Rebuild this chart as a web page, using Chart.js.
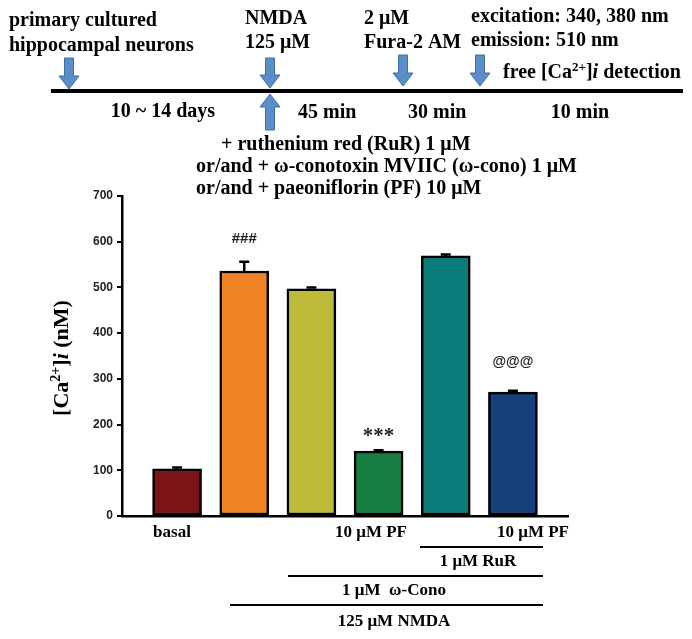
<!DOCTYPE html>
<html lang="en">
<head>
    <meta charset="UTF-8">
    <title>[Ca2+]i after NMDA</title>
    <script src="https://cdn.jsdelivr.net/npm/chart.js@4.4.1/dist/chart.umd.min.js"></script>
    <style>
        * { margin: 0; padding: 0; box-sizing: border-box; }
        body { background: #fff; }
        .chart-box { position: relative; width: 692px; height: 639px; }
    </style>
</head>
<body>
    <div class="chart-box"><canvas id="caChart"></canvas></div>
    <script>
        // bar data
        const categories = ['basal', 'NMDA', 'NMDA + ω-Cono', 'NMDA + ω-Cono + PF', 'NMDA + ω-Cono + RuR', 'NMDA + ω-Cono + RuR + PF'];
        const values = [103, 536, 497, 142, 569, 271];
        const errors = [3, 20, 3, 2, 3, 3];
        const marks = ['', '###', '', '***', '', '@@@'];
        const barColors = ['#7C1518', '#F08425', '#BDBB37', '#177E42', '#0A7C79', '#173F79'];
        const yMin = 0, yMax = 700, yStep = 100;

        const SERIF = '"Liberation Serif", "Times New Roman", serif';
        const SANS = '"Liberation Sans", Arial, sans-serif';
        const arrowFill = '#5B8DC9';
        const arrowStroke = '#3F6FA5';

        // draw text made of runs (for superscripts / italics)
        function drawRuns(ctx, runs, x, y, align) {
            let total = 0;
            runs.forEach(r => { ctx.font = r.font; r.w = ctx.measureText(r.t).width; total += r.w; });
            let cx = align === 'center' ? x - total / 2 : x;
            ctx.textAlign = 'left';
            ctx.textBaseline = 'middle';
            runs.forEach(r => {
                ctx.font = r.font;
                ctx.fillText(r.t, cx, y + (r.dy || 0));
                cx += r.w;
            });
        }

        function arrow(ctx, x, yTail, yTip) {
            const dir = yTip > yTail ? 1 : -1;
            const headLen = 13, shaft = 4.5, head = 10;
            const yBase = yTip - dir * headLen;
            ctx.save();
            ctx.beginPath();
            ctx.moveTo(x - shaft, yTail);
            ctx.lineTo(x + shaft, yTail);
            ctx.lineTo(x + shaft, yBase);
            ctx.lineTo(x + head, yBase);
            ctx.lineTo(x, yTip);
            ctx.lineTo(x - head, yBase);
            ctx.lineTo(x - shaft, yBase);
            ctx.closePath();
            ctx.fillStyle = arrowFill;
            ctx.fill();
            ctx.lineWidth = 1;
            ctx.strokeStyle = arrowStroke;
            ctx.stroke();
            ctx.restore();
        }

        function hline(ctx, x1, x2, y, w) {
            ctx.beginPath();
            ctx.moveTo(x1, y);
            ctx.lineTo(x2, y);
            ctx.lineWidth = w;
            ctx.strokeStyle = '#000';
            ctx.stroke();
        }

        const extras = {
            id: 'extras',
            afterDatasetsDraw(chart) {
                const ctx = chart.ctx;
                const xs = chart.scales.x, ys = chart.scales.y;
                ctx.save();
                ctx.fillStyle = '#000';

                // error bars (upper half only)
                values.forEach((v, i) => {
                    const x = xs.getPixelForValue(i);
                    const yTop = ys.getPixelForValue(v);
                    const yErr = ys.getPixelForValue(v + errors[i]);
                    ctx.beginPath();
                    ctx.moveTo(x, yTop);
                    ctx.lineTo(x, yErr);
                    ctx.moveTo(x - 5, yErr);
                    ctx.lineTo(x + 5, yErr);
                    ctx.lineWidth = 2.5;
                    ctx.strokeStyle = '#000';
                    ctx.stroke();
                });

                // significance marks
                const markOffset = [0, 23, 0, 17, 0, 29];
                const markFont = ['', 'bold 15px ' + SANS, '', 'bold 21px ' + SERIF, '', 'bold 14px ' + SANS];
                ctx.fillStyle = '#222';
                marks.forEach((m, i) => {
                    if (!m) return;
                    const x = xs.getPixelForValue(i);
                    const y = ys.getPixelForValue(values[i] + errors[i]) - markOffset[i];
                    ctx.font = markFont[i];
                    ctx.textAlign = 'center';
                    ctx.textBaseline = 'middle';
                    ctx.fillText(m, x, i === 3 ? y + 3 : y);
                });
                ctx.fillStyle = '#000';

                // y axis title
                ctx.save();
                ctx.translate(62, 358);
                ctx.rotate(-Math.PI / 2);
                drawRuns(ctx, [
                    { t: '[Ca', font: 'bold 22px ' + SERIF },
                    { t: '2+', font: 'bold 14px ' + SERIF, dy: -6 },
                    { t: ']', font: 'bold 22px ' + SERIF },
                    { t: 'i', font: 'bold italic 22px ' + SERIF },
                    { t: ' (nM)', font: 'bold 22px ' + SERIF }
                ], 0, 0, 'center');
                ctx.restore();

                // treatment labels under the bars
                const f17 = 'bold 17px ' + SERIF;
                ctx.textAlign = 'center';
                ctx.textBaseline = 'middle';
                ctx.font = f17;
                ctx.fillText('basal', 172, 533);
                ctx.fillText('10 μM PF', 371, 533);
                ctx.fillText('10 μM PF', 533, 533);
                hline(ctx, 420, 543, 547, 2);
                ctx.fillText('1 μM RuR', 478, 562);
                hline(ctx, 288, 543, 576, 2);
                ctx.fillText('1 μM  ω-Cono', 394, 591);
                hline(ctx, 230, 543, 605, 2);
                ctx.fillText('125 μM NMDA', 394, 622);

                // protocol timeline on top
                const f20 = 'bold 20px ' + SERIF;
                ctx.font = f20;
                ctx.textAlign = 'left';
                ctx.fillText('primary cultured', 9, 21);
                ctx.fillText('hippocampal neurons', 9, 46);
                ctx.fillText('NMDA', 245, 19);
                ctx.fillText('125 μM', 245, 43);
                ctx.fillText('2 μM', 364, 19);
                ctx.fillText('Fura-2 AM', 364, 43);
                ctx.fillText('excitation: 340, 380 nm', 471, 17);
                ctx.fillText('emission: 510 nm', 471, 41);
                drawRuns(ctx, [
                    { t: 'free [Ca', font: f20 },
                    { t: '2+', font: 'bold 13px ' + SERIF, dy: -5 },
                    { t: ']', font: f20 },
                    { t: 'i', font: 'bold italic 20px ' + SERIF },
                    { t: ' detection', font: f20 }
                ], 503, 73, 'left');

                hline(ctx, 51, 683, 91, 4);
                arrow(ctx, 69, 58, 89);
                arrow(ctx, 270, 58, 88);
                arrow(ctx, 403, 55, 86);
                arrow(ctx, 480, 55, 86);
                arrow(ctx, 270, 130, 94);

                ctx.fillStyle = '#000';
                ctx.font = f20;
                ctx.textAlign = 'center';
                ctx.fillText('10 ~ 14 days', 163, 112);
                ctx.textAlign = 'left';
                ctx.fillText('45 min', 298, 113);
                ctx.fillText('30 min', 408, 113);
                ctx.textAlign = 'center';
                ctx.fillText('10 min', 580, 113);
                ctx.textAlign = 'left';
                ctx.fillText('+ ruthenium red (RuR) 1 μM', 221, 145);
                ctx.fillText('or/and + ω-conotoxin MVIIC (ω-cono) 1 μM', 196, 167);
                ctx.fillText('or/and + paeoniflorin (PF) 10 μM', 196, 189);

                ctx.restore();
            }
        };

        const ctx = document.getElementById('caChart').getContext('2d');
        new Chart(ctx, {
            type: 'bar',
            data: {
                labels: categories,
                datasets: [{
                    label: '[Ca2+]i (nM)',
                    data: values.map((v, i) => ({ x: i, y: v })),
                    backgroundColor: barColors,
                    borderColor: '#000',
                    borderWidth: 2.5,
                    borderSkipped: false,
                    barThickness: 49
                }]
            },
            options: {
                responsive: true,
                maintainAspectRatio: false,
                animation: false,
                layout: { padding: { left: 0, top: 196, right: 124, bottom: 123 } },
                plugins: {
                    legend: { display: false },
                    tooltip: { enabled: false }
                },
                scales: {
                    x: {
                        type: 'linear',
                        offset: false,
                        min: -0.82,
                        max: 5.82,
                        grid: { display: false, offset: false },
                        ticks: { display: false },
                        border: { display: true, color: '#000', width: 2.5 },
                        afterFit: scale => { scale.height = 0; }
                    },
                    y: {
                        min: yMin,
                        max: yMax,
                        ticks: {
                            stepSize: yStep,
                            color: '#222',
                            padding: 4,
                            font: { family: SANS, size: 12, weight: 'bold' }
                        },
                        grid: {
                            drawOnChartArea: false,
                            drawTicks: true,
                            tickLength: 5,
                            color: '#000',
                            lineWidth: 2
                        },
                        border: { display: true, color: '#000', width: 2.5 },
                        afterFit: scale => { scale.width = 122; }
                    }
                }
            },
            plugins: [extras]
        });
    </script>
</body>
</html>
